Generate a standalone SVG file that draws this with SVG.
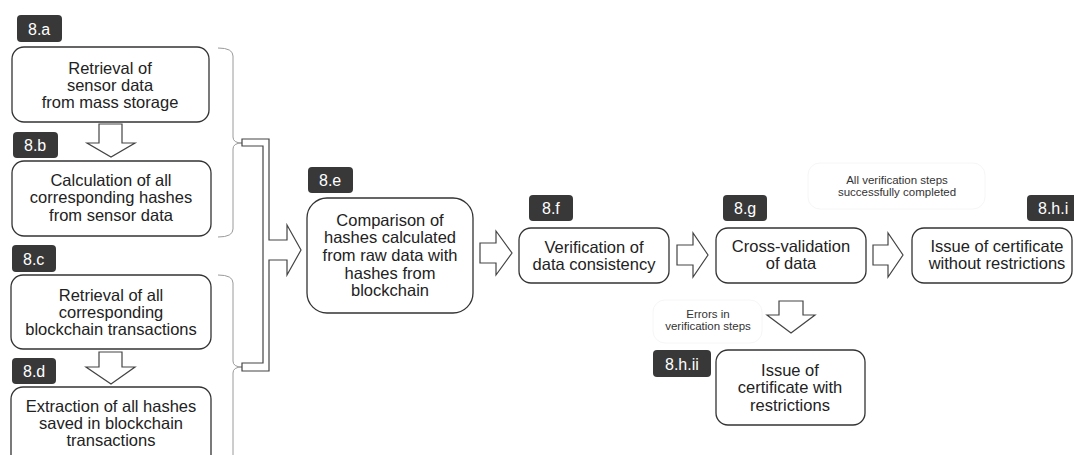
<svg xmlns="http://www.w3.org/2000/svg" width="1074" height="455" viewBox="0 0 1074 455">
  <style>
    .box { fill: #fff; stroke: #333; stroke-width: 1.3; }
    .tag { fill: #383838; }
    .tagtxt { fill: #fff; font-family: "Liberation Sans", Arial, sans-serif; font-size: 16px; }
    .txt { fill: #222; font-family: "Liberation Sans", Arial, sans-serif; font-size: 16.5px; text-anchor: middle; }
    .small { fill: #333; font-family: "Liberation Sans", Arial, sans-serif; font-size: 11.5px; text-anchor: middle; }
    .note { fill: #fff; stroke: #f6f6f6; stroke-width: 1; }
    .block { fill: #fff; stroke: #444; stroke-width: 1.2; stroke-linejoin: miter; }
    .brace { fill: none; stroke: #9a9a9a; stroke-width: 1; }
  </style>
  <rect width="1074" height="455" fill="#fff"/>

  <!-- connectors -->
  <g id="connectors">
    <path class="brace" d="M218,48 Q233,48 233,56 L233,137 Q233,143 242,143 Q233,143 233,149 L233,229 Q233,237 218,237"/>
    <path class="brace" d="M218,275 Q233,275 233,283 L233,361 Q233,367 242,367 Q233,367 233,373 L233,460"/>
    <polygon class="block" points="242,139 269,139 269,240 287,240 287,225 301,250 287,275 287,260 269,260 269,371 242,371 242,363 263,363 263,146 242,146"/>
    <polygon class="block" points="99,124 122,124 122,143 135,143 111,157 87,143 99,143"/>
    <polygon class="block" points="99,352 122,352 122,367 135,367 111,384 86,367 99,367"/>
    <polygon class="block" points="480,243 496,243 496,231 512,253 496,275 496,263 480,263"/>
    <polygon class="block" points="677,245 693,245 693,233 708,255 693,277 693,265 677,265"/>
    <polygon class="block" points="873,245 888,245 888,233 903,255 888,277 888,265 873,265"/>
    <polygon class="block" points="779,301 803,301 803,315 815,315 791,333 767,315 779,315"/>
    <rect class="note" x="808" y="163" width="177" height="46" rx="12"/>
    <text class="small" x="897" y="184">All verification steps</text>
    <text class="small" x="897" y="196">successfully completed</text>
    <rect class="note" x="653" y="300" width="109" height="43" rx="12"/>
    <text class="small" x="708" y="318">Errors in</text>
    <text class="small" x="708" y="330">verification steps</text>
  </g>

  <g id="node-8a">
    <rect class="tag" x="17" y="15" width="45" height="27" rx="4"/>
    <text class="tagtxt" x="28" y="35">8.a</text>
    <rect class="box" x="12" y="47" width="197" height="75" rx="12"/>
    <text class="txt" x="110" y="74">Retrieval of</text>
    <text class="txt" x="110" y="91">sensor data</text>
    <text class="txt" x="110" y="108">from mass storage</text>
  </g>

  <g id="node-8b">
    <rect class="tag" x="13" y="132" width="45" height="26" rx="4"/>
    <text class="tagtxt" x="24" y="151">8.b</text>
    <rect class="box" x="12" y="161" width="199" height="75" rx="12"/>
    <text class="txt" x="111" y="186">Calculation of all</text>
    <text class="txt" x="111" y="203">corresponding hashes</text>
    <text class="txt" x="111" y="221">from sensor data</text>
  </g>

  <g id="node-8c">
    <rect class="tag" x="12" y="245" width="44" height="27" rx="4"/>
    <text class="tagtxt" x="23" y="265">8.c</text>
    <rect class="box" x="11" y="275" width="200" height="74" rx="12"/>
    <text class="txt" x="111" y="301">Retrieval of all</text>
    <text class="txt" x="111" y="318">corresponding</text>
    <text class="txt" x="111" y="335">blockchain transactions</text>
  </g>

  <g id="node-8d">
    <rect class="tag" x="12" y="358" width="44" height="26" rx="4"/>
    <text class="tagtxt" x="23" y="377">8.d</text>
    <rect class="box" x="11" y="387" width="200" height="85" rx="12"/>
    <text class="txt" x="111" y="412">Extraction of all hashes</text>
    <text class="txt" x="111" y="429">saved in blockchain</text>
    <text class="txt" x="111" y="446">transactions</text>
  </g>

  <g id="node-8e">
    <rect class="tag" x="308" y="167" width="45" height="26" rx="4"/>
    <text class="tagtxt" x="319" y="186">8.e</text>
    <rect class="box" x="307" y="198" width="166" height="115" rx="20"/>
    <text class="txt" x="390" y="226">Comparison of</text>
    <text class="txt" x="390" y="243">hashes calculated</text>
    <text class="txt" x="390" y="261">from raw data with</text>
    <text class="txt" x="390" y="279">hashes from</text>
    <text class="txt" x="390" y="296">blockchain</text>
  </g>

  <g id="node-8f">
    <rect class="tag" x="529" y="195" width="44" height="26" rx="4"/>
    <text class="tagtxt" x="542" y="214">8.f</text>
    <rect class="box" x="519" y="228" width="150" height="55" rx="12"/>
    <text class="txt" x="594" y="253">Verification of</text>
    <text class="txt" x="594" y="270">data consistency</text>
  </g>

  <g id="node-8g">
    <rect class="tag" x="723" y="195" width="44" height="26" rx="4"/>
    <text class="tagtxt" x="734" y="214">8.g</text>
    <rect class="box" x="716" y="228" width="150" height="55" rx="12"/>
    <text class="txt" x="791" y="252">Cross-validation</text>
    <text class="txt" x="791" y="269">of data</text>
  </g>

  <g id="node-8hi">
    <rect class="tag" x="1027" y="195" width="50" height="26" rx="4"/>
    <text class="tagtxt" x="1038" y="214">8.h.i</text>
    <rect class="box" x="912" y="228" width="160" height="55" rx="12"/>
    <text class="txt" x="997" y="252">Issue of certificate</text>
    <text class="txt" x="997" y="269">without restrictions</text>
  </g>

  <g id="node-8hii">
    <rect class="tag" x="653" y="350" width="58" height="27" rx="4"/>
    <text class="tagtxt" x="665" y="370">8.h.ii</text>
    <rect class="box" x="716" y="350" width="149" height="75" rx="12"/>
    <text class="txt" x="790" y="376">Issue of</text>
    <text class="txt" x="790" y="393">certificate with</text>
    <text class="txt" x="790" y="411">restrictions</text>
  </g>
</svg>
